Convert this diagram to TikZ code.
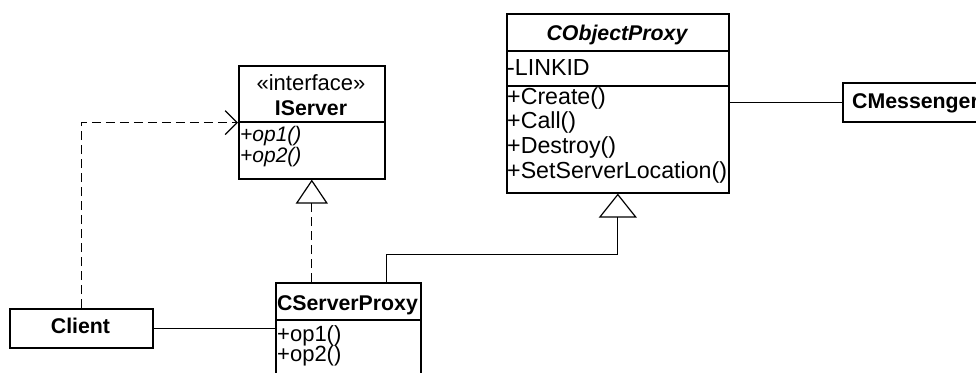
\documentclass[tikz,border=0pt]{standalone}
\usepackage{fontspec}
\setmainfont{Liberation Sans}
\usetikzlibrary{arrows.meta}

% font sizes (picture unit is 1pt)
\newcommand{\regtxt}{\fontsize{22}{25}\selectfont}
\newcommand{\widetxt}{\fontsize{23.2}{25}\selectfont}
\newcommand{\bftxt}{\fontsize{21.3}{25}\selectfont\bfseries}
\newcommand{\ittxt}{\fontsize{21}{25}\selectfont\itshape}

\begin{document}
\begin{tikzpicture}[x=1pt,y=1pt,
  box/.style={draw, line width=1.6pt, rectangle, inner sep=0pt, anchor=north west},
  member/.style={inner sep=0pt, anchor=base west, font=\regtxt},
  absmember/.style={inner sep=0pt, anchor=base west, font=\ittxt},
  title/.style={inner sep=0pt, anchor=base, font=\bftxt},
  link/.style={line width=1.2pt},
  dashlink/.style={link, dash pattern=on 9pt off 5pt},
  realize/.style={dashlink, -{Triangle[open, length=24pt, width=32pt]}},
  inherit/.style={link, -{Triangle[open, length=24pt, width=38pt]}},
  uses/.style={dashlink, -{Straight Barb[length=12pt, width=24pt]}}
]
\useasboundingbox (0,0) rectangle (976,-372);
\clip (0,0) rectangle (976,-372);

% CObjectProxy class
\node[box, minimum width=222pt, minimum height=37pt] (objT) at (506,-13) {};
\node[box, minimum width=222pt, minimum height=35pt] (objA) at (506,-50) {};
\node[box, minimum width=222pt, minimum height=107pt] (objM) at (506,-85) {};
\node[title, font=\bftxt\itshape] (objName) at (617,-40) {CObjectProxy};
\node[member, font=\widetxt] (objLink) at (507,-75) {-LINKID};
\node[member, font=\widetxt] (objCreate) at (507,-104) {+Create()};
\node[member, font=\widetxt] (objCall) at (507,-128.8) {+Call()};
\node[member, font=\widetxt] (objDestroy) at (507,-153.6) {+Destroy()};
\node[member, font=\widetxt] (objSetLoc) at (507,-178.4) {+SetServerLocation()};

% IServer interface
\node[box, minimum width=146pt, minimum height=56pt] (isH) at (238,-65) {};
\node[box, minimum width=146pt, minimum height=57pt] (isB) at (238,-121) {};
\node[inner sep=0pt, anchor=base, font=\regtxt] (isStereo) at (311,-90) {«interface»};
\node[title] (isName) at (311,-115) {IServer};
\node[absmember] (isOp1) at (240,-141) {+op1()};
\node[absmember] (isOp2) at (240,-162) {+op2()};

% CServerProxy class
\node[box, minimum width=145pt, minimum height=37pt] (csH) at (275,-282) {};
\node[box, minimum width=145pt, minimum height=80pt] (csB) at (275,-319) {};
\node[title] (csName) at (347.5,-310) {CServerProxy};
\node[member] (csOp1) at (277,-341) {+op1()};
\node[member] (csOp2) at (277,-361) {+op2()};

% Client and CMessenger
\node[box, minimum width=143pt, minimum height=39pt] (client) at (9,-308) {};
\node[title] (clientName) at (80.5,-333) {Client};
\node[box, minimum width=160pt, minimum height=39pt] (cmsg) at (842,-82) {};
\node[title, anchor=base west] (cmsgName) at (852,-108) {CMessenger};

% relations
\draw[realize] (isB.south |- csH.north) -- (isB.south);
\draw[inherit] ([xshift=-35pt]csH.north east) |- ([yshift=-61pt]objM.south) -- (objM.south);
\draw[link] (client.east) -- (client.east -| csB.west);
\draw[uses] (client.north) |- (isH.south west);
\draw[link] (objM.east |- cmsg.west) -- (cmsg.west);
\end{tikzpicture}
\end{document}
